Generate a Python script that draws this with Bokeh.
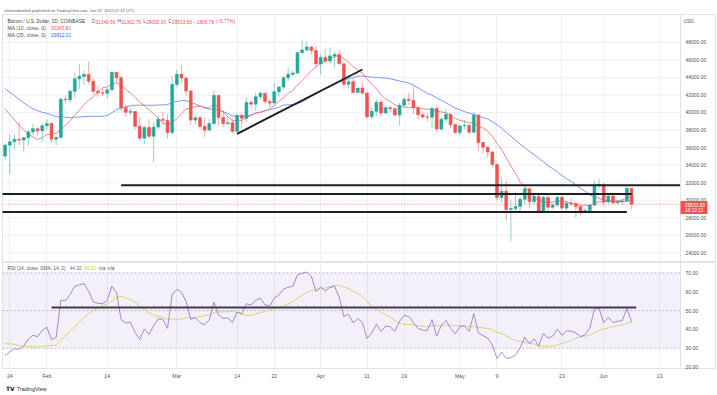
import numpy as np
import pandas as pd
from bokeh.plotting import figure
from bokeh.layouts import column
from bokeh.models import (ColumnDataSource, Range1d, FixedTicker, PrintfTickFormatter,
                          Span, BoxAnnotation, Label, Grid)
from bokeh.core.properties import value
from bokeh.embed import file_html
from bokeh.resources import INLINE

# ---------------------------------------------------------------- data
first_date = "2022-01-23"

# closes before the visible window (only used to warm up MA / RSI)
prior_closes = [57230, 56509, 53713, 49253, 49368, 50582, 50700, 50504, 47672, 47243,
                49362, 50098, 46737, 48379, 48865, 47632, 46131, 46834, 46681, 46915,
                48897, 48588, 50838, 50820, 50429, 50809, 50640, 47588, 46444, 47178, 46306,
                47686, 47345, 46458, 45897, 43569, 43160, 41558, 41734, 41912, 41821,
                42736, 43949, 42591, 43099, 43177, 43113, 42250, 42375, 41744, 40680,
                36457, 35030]

close = [36276, 36654, 36954, 36852, 37138, 37784, 38138, 37917, 38483,
         38743, 36952, 37155, 41501, 41441, 42412, 43840, 44118, 44338, 43565,
         42407, 42244, 42197, 42586, 44575, 43961, 40538, 40030, 40122, 38431,
         37075, 38286, 37296, 38332, 39214, 39105, 37710, 43193,
         44354, 43925, 42452, 39138, 39400, 38420, 37989, 38731, 41942, 39439,
         38730, 38831, 37846, 39664, 39338, 41143, 40951, 41801, 42191, 41247,
         41077, 42358, 42893, 43960, 44349, 44500, 46820, 47128, 47465, 47063, 45538,
         46281, 45868, 46453, 46622, 45555, 43206, 43503, 42287, 42782, 42207,
         39521, 40127, 41166, 39935, 40553, 40424, 39716, 40826, 41502, 41374,
         40527, 39741, 39486, 39470, 40458, 38118, 39241, 39773, 38610, 37714,
         38469, 38529, 37750, 39698, 36575, 36041, 35501, 34060, 30296, 31023,
         28936, 29047, 29283, 30101, 31305, 29863, 30425, 28716, 30315, 29201,
         29445, 30324, 29098, 29655, 29562, 29267, 28627, 28815, 29445, 31726, 31792,
         29799, 30467, 29705, 29832, 29906, 31343.61, 29533.83]

high = [36500, 37550, 37520, 38920, 37230, 38000, 38700, 38360, 38740,
        39250, 38850, 37400, 41760, 41950, 42650, 44500, 45500, 44800, 45850,
        43900, 43000, 42750, 42850, 44700, 44600, 44200, 40900, 40500, 40180,
        39500, 38450, 39200, 38900, 39700, 40100, 39800, 44200,
        44900, 45400, 44100, 42500, 39650, 39650, 39500, 39300, 42500, 42000,
        40200, 39400, 39300, 39900, 39850, 41700, 41450, 42300, 42400, 42300,
        41550, 43350, 43000, 44200, 45100, 44800, 46900, 48200, 48100, 47650, 47600,
        46650, 47200, 47400, 46900, 47100, 45600, 43900, 43950, 42800, 43400,
        42400, 40650, 41500, 41450, 40850, 40700, 40600, 41100, 41700, 42200,
        42950, 40800, 39950, 39900, 40600, 40800, 39450, 40350, 39950, 38800,
        38650, 39150, 38650, 40000, 39800, 36650, 36150, 35550, 34250, 32600,
        32150, 30050, 31000, 30350, 31450, 31350, 30750, 30700, 30500, 30750,
        29650, 30450, 30650, 29850, 30200, 29850, 29400, 29200, 29550, 32200, 32400,
        31950, 30650, 30680, 29950, 30150, 31750, 31362.76]

low = [34600, 32950, 35700, 36250, 35500, 36200, 37400, 37350, 36630,
       38000, 36600, 36250, 37050, 40950, 41120, 41700, 42700, 43170, 43200,
       42000, 41800, 41900, 41600, 42450, 43350, 40100, 39500, 39700, 38050,
       36800, 36400, 37050, 34350, 38050, 38600, 37050, 37450,
       42850, 43350, 41850, 38600, 38650, 38100, 37200, 37900, 38650, 38550,
       38300, 38600, 37600, 37600, 38200, 38900, 40550, 40200, 41500, 40950,
       40550, 40900, 41850, 42600, 43600, 44100, 44400, 46650, 46950, 46600, 45200,
       44300, 45650, 45550, 45100, 45450, 43100, 42750, 42150, 42150, 42050,
       39250, 39250, 39550, 39600, 39800, 40050, 39550, 38550, 40600, 40850,
       39800, 39200, 39300, 39000, 38200, 37750, 37900, 38900, 38200, 37600,
       37400, 38050, 37550, 37700, 35600, 35300, 34800, 33700, 30000, 29750,
       27700, 25350, 28750, 28650, 29500, 29100, 29450, 28650, 28650, 28750,
       28950, 29250, 28900, 28700, 29300, 28050, 28250, 28550, 28800, 29300, 31250,
       29350, 29600, 29550, 29500, 29500, 29880, 29000]

tick_dates = ["2022-01-24", "2022-02-01", "2022-02-14", "2022-03-01", "2022-03-14",
              "2022-03-22", "2022-04-01", "2022-04-11", "2022-04-19", "2022-05-01",
              "2022-05-09", "2022-05-23", "2022-06-01", "2022-06-13"]
tick_labels = ["24", "Feb", "14", "Mar", "14", "22", "Apr", "11", "19", "May",
               "9", "23", "Jun", "13"]
price_ticks = [24000, 26000, 28000, 30000, 32000, 34000, 36000, 38000, 40000,
               42000, 44000, 46000, 48000]
rsi_ticks = [20, 30, 40, 50, 60, 70]
rsi_levels = [70, 50, 30]

# user-drawn lines (date, price)
draw_x0 = ["2022-03-14", "2022-02-17", "2022-01-21", "2022-01-21"]
draw_x1 = ["2022-04-10", None, "2022-06-07", "2022-06-06"]   # None = to the price scale
draw_y0 = [37570, 31700, 30700, 28650]
draw_y1 = [44900, 31700, 30700, 28650]
rsi_draw_x = ["2022-02-02", "2022-06-08"]
rsi_draw_level = 51.6

header_text = "elimandambell published on TradingView.com, Jun 07, 2022 07:47 UTC"
symbol_text = "Bitcoin / U.S. Dollar, 1D, COINBASE"
ohlc_letters = ["O", "H", "L", "C"]
ohlc_values = ["31349.59", "31362.76", "29000.00", "29533.83"]
change_texts = ["\u22121809.78", "(\u22125.77%)"]
ma_titles = ["MA (10, close, 0)", "MA (25, close, 0)"]
ma_values = ["30345.81", "29912.01"]
rsi_title = "RSI (14, close, SMA, 14, 2)"
rsi_values = ["44.20", "43.81", "n/a", "n/a"]
last_time = "16:12:11"
currency = "USD"

# ---------------------------------------------------------------- derived
ORIGIN = pd.Timestamp(tick_dates[0])


def day(d):
    return float((pd.Timestamp(d) - ORIGIN).days)


dates = pd.date_range(first_date, periods=len(close), freq="D")
xd = np.array([(d - ORIGIN).days for d in dates], dtype=float)
c = np.array(close, float)
o = np.array([prior_closes[-1]] + close[:-1], float)
h = np.array(high, float)
l = np.array(low, float)

allc = pd.Series(prior_closes + close, dtype=float)
npre = len(prior_closes)
ma10 = allc.rolling(10).mean().to_numpy()[npre:]
ma25 = allc.rolling(25).mean().to_numpy()[npre:]


def rma(arr, n):
    out = np.full(len(arr), np.nan)
    out[n] = np.mean(arr[1:n + 1])
    for i in range(n + 1, len(arr)):
        out[i] = (out[i - 1] * (n - 1) + arr[i]) / n
    return out


dlt = allc.diff().to_numpy()
gain = np.where(dlt > 0, dlt, 0.0)
loss = np.where(dlt < 0, -dlt, 0.0)
ag, al = rma(gain, 14), rma(loss, 14)
rsi_all = 100 - 100 / (1 + ag / al)
rsi_sma_all = pd.Series(rsi_all).rolling(14).mean().to_numpy()
rsi = rsi_all[npre:]
rsi_sma = rsi_sma_all[npre:]

up = c >= o


def src(mask):
    return ColumnDataSource(dict(x=xd[mask], high=h[mask], low=l[mask],
                                 top=np.maximum(o, c)[mask], bottom=np.minimum(o, c)[mask]))


# ---------------------------------------------------------------- styling
W = 716
FONT = "Liberation Sans"
UP, DOWN = "#26a69a", "#ef5350"
GRID = "#eef0f5"
BORDER = "#e0e3eb"
TXT = "#50535e"
PX_PER_DAY = 4.64
X0, XSEP = -1.57, 144.55               # plot area (left edge .. price scale)
X1 = XSEP + 35 / PX_PER_DAY            # frame also covers the price-scale column
P_LO, P_HI = 22894, 51172
R_LO, R_HI = 19.3, 75.5
PRICE_PER_PX = (P_HI - P_LO) / 248.0

AW = {' ': 278, '(': 333, ')': 333, ',': 278, '.': 278, '/': 278, ':': 278, '%': 889,
      '\u2212': 584, '-': 333, 'A': 667, 'B': 667, 'C': 722, 'D': 722, 'E': 667, 'H': 722,
      'I': 278, 'L': 556, 'M': 833, 'N': 722, 'O': 778, 'R': 722, 'S': 667, 'U': 722,
      'a': 556, 'c': 500, 'e': 556, 'i': 222, 'l': 222, 'n': 556, 'o': 556, 'r': 333,
      's': 500, 't': 278}


def tw(s, size):
    return sum(AW.get(ch, 556) for ch in s) * size / 1000.0


def overlay(fig, items, x_anchor, dx, dy):
    x = dx
    for text, color, gap, size in items:
        x += gap
        fig.add_layout(Label(x=x_anchor, y=fig.y_range.end, x_offset=x, y_offset=-dy,
                             text=text, text_color=color, text_font=FONT,
                             text_font_size=f"{size}px", text_baseline="middle",
                             text_align="left"))
        x += tw(text, size)


def style_axis(ax, standoff):
    ax.axis_line_color = None
    ax.major_tick_line_color = None
    ax.minor_tick_line_color = None
    ax.major_tick_out = 0
    ax.major_tick_in = 0
    ax.major_label_text_font = FONT
    ax.major_label_text_font_size = "5px"
    ax.major_label_text_color = TXT
    ax.major_label_standoff = standoff


def base_fig(height, y_lo, y_hi, top, bottom, x_range=None):
    fig = figure(width=W, height=height,
                 x_range=x_range if x_range is not None else Range1d(X0, X1),
                 y_range=Range1d(y_lo, y_hi), y_axis_location="right",
                 output_backend="svg", toolbar_location=None,
                 min_border_left=2, min_border_right=1, min_border_top=top,
                 min_border_bottom=bottom, outline_line_color=BORDER,
                 background_fill_color="white", border_fill_color="white")
    fig.grid.visible = False
    fig.add_layout(Grid(dimension=0, ticker=FixedTicker(ticks=[day(t) for t in tick_dates]),
                        grid_line_color=GRID))
    fig.add_layout(Span(location=XSEP, dimension="height", line_color=BORDER, line_width=1))
    return fig


# ---------------------------------------------------------------- price pane
p = base_fig(262, P_LO, P_HI, 14, 0)
p.xaxis.visible = False
p.segment(x0=X0, x1=XSEP, y0=price_ticks, y1=price_ticks, line_color=GRID,
          line_width=1, level="underlay")
p.yaxis.ticker = FixedTicker(ticks=price_ticks)
p.yaxis.formatter = PrintfTickFormatter(format="%.2f")
style_axis(p.yaxis[0], -30)

p.title.text = header_text
p.title.align = "left"
p.title.offset = 2
p.title.standoff = 4
p.title.text_font = FONT
p.title.text_font_size = "4.1px"
p.title.text_font_style = "normal"
p.title.text_color = "#5d606b"

p.line(xd, ma25, line_color="#6f8cf6", line_width=1, line_alpha=0.9)
p.line(xd, ma10, line_color="#f07070", line_width=1, line_alpha=0.85)

for mask, col in ((up, UP), (~up, DOWN)):
    s = src(mask)
    p.segment(x0="x", y0="high", x1="x", y1="low", source=s, line_color=col,
              line_width=1, line_alpha=0.5)
    p.vbar(x="x", width=0.62, top="top", bottom="bottom", source=s,
           fill_color=col, line_color=col, line_width=0.6)

p.segment(x0=[day(d) for d in draw_x0],
          x1=[day(d) if d is not None else XSEP for d in draw_x1],
          y0=draw_y0, y1=draw_y1, line_color="#1e1f24", line_width=1.9)

p.segment(x0=[X0], x1=[XSEP], y0=[close[-1]], y1=[close[-1]], line_color=DOWN,
          line_dash="1 2", line_width=0.8)

FS = 4.8
items = [(symbol_text, "#3b3e48", 0, FS)]
for i, (lt, vt) in enumerate(zip(ohlc_letters, ohlc_values)):
    items.append((lt, TXT, 6 if i == 0 else 2, FS))
    items.append((vt, DOWN, 0.3, FS))
items.append((change_texts[0], DOWN, 2, FS))
items.append((change_texts[1], DOWN, 1.5, FS))
overlay(p, items, X0, 5, 7.0)
overlay(p, [(ma_titles[0], TXT, 0, 5.1), (ma_values[0], DOWN, 5, FS)], X0, 5, 13.8)
overlay(p, [(ma_titles[1], TXT, 0, 5.1), (ma_values[1], "#2962ff", 5, FS)], X0, 5, 20.6)
overlay(p, [(currency, TXT, 0, FS)], XSEP, 3, 6.7)

# last-price marker on the price scale
p.add_layout(BoxAnnotation(left=XSEP, right=XSEP + 27 / PX_PER_DAY,
                           top=close[-1] + 3.3 * PRICE_PER_PX,
                           bottom=close[-1] - 9.8 * PRICE_PER_PX,
                           fill_color=DOWN, fill_alpha=1.0, line_color=None))
for txt, dy in ((f"{close[-1]:.2f}", 0.5), (last_time, 6.6)):
    p.add_layout(Label(x=XSEP, y=close[-1], x_offset=4.5, y_offset=-dy, text=txt,
                       text_color="white", text_font=FONT, text_font_size="4.8px",
                       text_baseline="middle"))

# ---------------------------------------------------------------- RSI pane
r = base_fig(119, R_LO, R_HI, 0, 12, x_range=p.x_range)
r.add_layout(BoxAnnotation(left=X0, right=XSEP, bottom=rsi_levels[-1], top=rsi_levels[0],
                           fill_color="#7e57c2", fill_alpha=0.09, line_color=None))
r.segment(x0=X0, x1=XSEP, y0=rsi_levels, y1=rsi_levels, line_color="#9a9cab",
          line_dash="2 2", line_width=0.8, line_alpha=0.8)
r.line(xd, rsi_sma, line_color="#e3e36a", line_width=1)
r.line(xd, rsi, line_color="#9d80d8", line_width=0.9)
r.segment(x0=[day(rsi_draw_x[0])], y0=[rsi_draw_level], x1=[day(rsi_draw_x[1])],
          y1=[rsi_draw_level], line_color="#3a3b45", line_width=2)

r.yaxis.ticker = FixedTicker(ticks=rsi_ticks)
r.yaxis.formatter = PrintfTickFormatter(format="%.2f")
style_axis(r.yaxis[0], -30)
r.xaxis.ticker = FixedTicker(ticks=[day(t) for t in tick_dates])
r.xaxis.major_label_overrides = {day(t): lab for t, lab in zip(tick_dates, tick_labels)}
style_axis(r.xaxis[0], 4)
r.xaxis.major_label_text_font_size = "5.2px"

overlay(r, [(rsi_title, TXT, 0, FS), (rsi_values[0], "#7e57c2", 4, FS),
            (rsi_values[1], "#c8c83a", 2.5, FS), (rsi_values[2], TXT, 2.5, FS),
            (rsi_values[3], TXT, 2.5, FS)], X0, 5, 5.7)

# ---------------------------------------------------------------- footer
f = figure(width=W, height=13, x_range=Range1d(0, W), y_range=Range1d(0, 13),
           x_axis_location=None, y_axis_location=None, output_backend="svg",
           toolbar_location=None, min_border=0, outline_line_color=None)
f.grid.visible = False
f.text(x=[3.5], y=[6], text=["TV"], text_font=value("DejaVu Sans"),
       text_font_style="bold", text_font_size="6px", text_color="#131722",
       text_baseline="middle")
f.text(x=[14.5], y=[6], text=["TradingView"], text_font=value(FONT),
       text_font_size="5.4px", text_color="#2a2e39", text_baseline="middle")

layout = column(p, r, f, spacing=0)
open("out.html", "w").write(file_html(layout, INLINE))
